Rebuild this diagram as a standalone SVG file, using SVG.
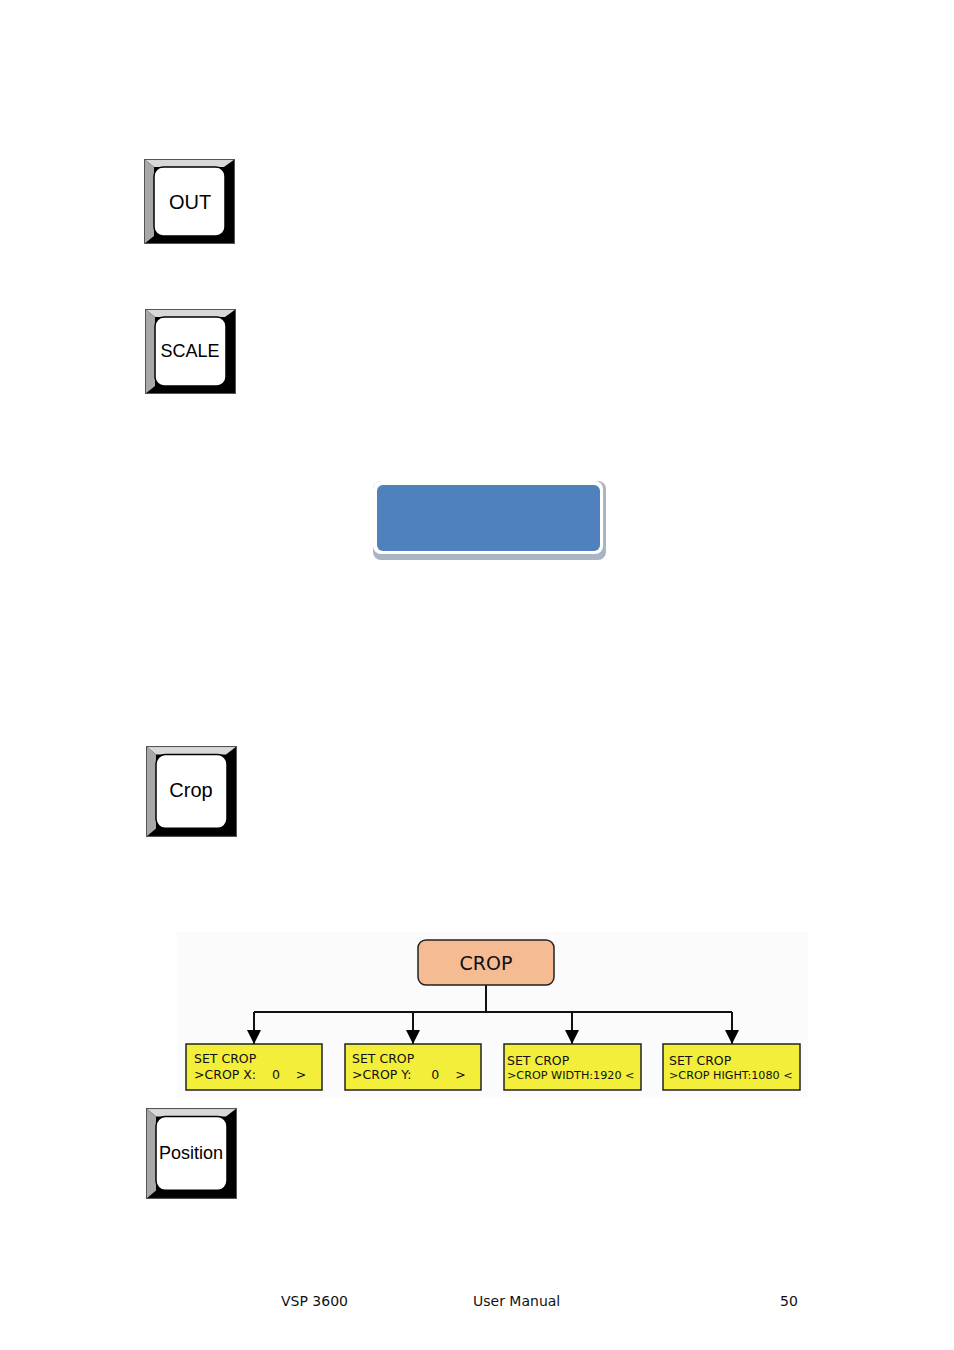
<svg xmlns="http://www.w3.org/2000/svg" width="954" height="1350" viewBox="0 0 954 1350">
<style>
.t{font-family:"DejaVu Sans",sans-serif;fill:#111}
.k{font-family:"Liberation Sans",Arial,sans-serif;font-size:20px;fill:#000;text-anchor:middle}
.y{fill:#f2ee3a;stroke:#222;stroke-width:1.5}
.c{stroke:#111;stroke-width:2;fill:none}
</style>
<defs>
<marker id="a" viewBox="0 0 10 10" refX="10" refY="5" markerWidth="14" markerHeight="14" orient="auto" markerUnits="userSpaceOnUse"><path d="M0,0L10,5L0,10z" fill="#000"/></marker>
<g id="key">
<rect x="0" y="0" width="91" height="85" fill="#000"/>
<polygon points="0,0 91,0 80,8 10,8" fill="#d8d8d8"/>
<polygon points="0,0 10,8 10,77 0,85" fill="#a8a8a8"/>
<rect x="10" y="8" width="71" height="69" rx="9" fill="#fff" stroke="#000" stroke-width="1.5"/>
<rect x="0.5" y="0.5" width="90" height="84" fill="none" stroke="#555" stroke-width="1"/>
</g>
</defs>
<rect width="954" height="1350" fill="#fff"/>
<g id="out"><use href="#key" x="144" y="159"/><text class="k" x="190" y="209">OUT</text></g>
<g id="scale"><use href="#key" x="145" y="309"/><text class="k" x="190" y="357" style="font-size:18px">SCALE</text></g>
<g id="blue">
<rect x="373" y="481" width="233" height="79" rx="8" fill="#aab4c2"/>
<rect x="373" y="481" width="230" height="73" rx="8" fill="#fff"/>
<rect x="377" y="485" width="223" height="66" rx="6" fill="#4f81bd"/>
</g>
<g id="crop"><use href="#key" transform="translate(146,746) scale(1,1.07)"/><text class="k" x="191" y="797">Crop</text></g>
<g id="position"><use href="#key" transform="translate(146,1108) scale(1,1.07)"/><text class="k" x="191" y="1159" style="font-size:18px">Position</text></g>
<rect x="177" y="932" width="631" height="166" fill="#fbfbfb"/>
<g id="connectors">
<path class="c" d="M486,985V1012M254,1012H732"/>
<path class="c" d="M254,1012V1044" marker-end="url(#a)"/>
<path class="c" d="M413,1012V1044" marker-end="url(#a)"/>
<path class="c" d="M572,1012V1044" marker-end="url(#a)"/>
<path class="c" d="M732,1012V1044" marker-end="url(#a)"/>
</g>
<g id="cropnode"><rect x="418" y="940" width="136" height="45" rx="8" fill="#f5bb92" stroke="#222" stroke-width="1.5"/><text class="t" x="486" y="970" font-size="19" text-anchor="middle">CROP</text></g>
<g id="n1"><rect class="y" x="186" y="1044" width="136" height="46"/><text class="t" font-size="12.5" x="194" y="1063">SET CROP</text><text class="t" font-size="12.5" x="194" y="1079" xml:space="preserve">&gt;CROP X:    0    &gt;</text></g>
<g id="n2"><rect class="y" x="345" y="1044" width="136" height="46"/><text class="t" font-size="12.5" x="352" y="1063">SET CROP</text><text class="t" font-size="12.5" x="352" y="1079" xml:space="preserve">&gt;CROP Y:     0    &gt;</text></g>
<g id="n3"><rect class="y" x="504" y="1044" width="137" height="46"/><text class="t" font-size="12.5" x="507" y="1065">SET CROP</text><text class="t" font-size="11.2" x="507" y="1079">&gt;CROP WIDTH:1920 &lt;</text></g>
<g id="n4"><rect class="y" x="663" y="1044" width="137" height="46"/><text class="t" font-size="12.5" x="669" y="1065">SET CROP</text><text class="t" font-size="11.2" x="669" y="1079">&gt;CROP HIGHT:1080 &lt;</text></g>
<g font-family="'DejaVu Sans',sans-serif" font-size="14" fill="#111">
<text x="281" y="1306">VSP 3600</text><text x="473" y="1306">User Manual</text><text x="780" y="1306">50</text>
</g>
</svg>
